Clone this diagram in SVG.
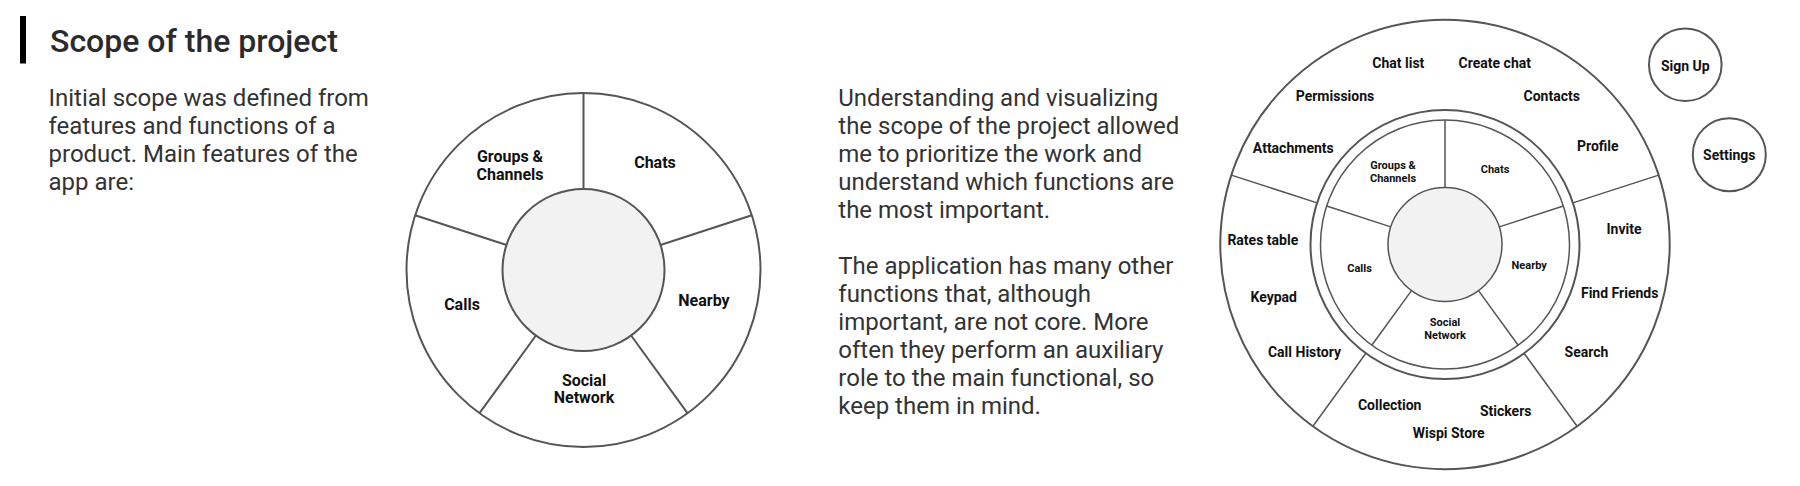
<svg xmlns="http://www.w3.org/2000/svg" width="1800" height="486" viewBox="0 0 1800 486">
<style>
  .title { font-family: Roboto, "Liberation Sans", sans-serif; font-size: 32px; font-weight: 500; fill: #2b2b2b; }
  .body { font-family: Roboto, "Liberation Sans", sans-serif; font-size: 24px; font-weight: 400; fill: #333333; }
  .lbl { font-family: Roboto, "Liberation Sans", sans-serif; font-weight: 700; fill: #111111; text-anchor: middle; }
  .big { font-size: 16px; }
  .mid { font-size: 14px; }
  .small { font-size: 11px; }
  .ring { fill: #ffffff; stroke: #555555; stroke-width: 2; }
  .thin { fill: #ffffff; stroke: #555555; stroke-width: 1.5; }
  .core { fill: #f2f2f2; stroke: #555555; }
  .div { stroke: #555555; stroke-width: 2; fill: none; }
  .div2 { stroke: #555555; stroke-width: 1.5; fill: none; }
</style>
<rect x="0" y="0" width="1800" height="486" fill="#ffffff"/>

<g id="title">
  <rect x="20" y="16" width="6" height="47.5" fill="#000000"/>
  <text class="title" x="50" y="52.3">Scope of the project</text>
</g>

<g id="intro-text">
  <text class="body" x="48.5" y="106.3">Initial scope was defined from</text>
  <text class="body" x="48.5" y="134.3">features and functions of a</text>
  <text class="body" x="48.5" y="162.3">product. Main features of the</text>
  <text class="body" x="48.5" y="190.3">app are:</text>
</g>

<g id="explain-text">
  <text class="body" x="838.3" y="106">Understanding and visualizing</text>
  <text class="body" x="838.3" y="134">the scope of the project allowed</text>
  <text class="body" x="838.3" y="162">me to prioritize the work and</text>
  <text class="body" x="838.3" y="190">understand which functions are</text>
  <text class="body" x="838.3" y="218">the most important.</text>
  <text class="body" x="838.3" y="274">The application has many other</text>
  <text class="body" x="838.3" y="302">functions that, although</text>
  <text class="body" x="838.3" y="330">important, are not core. More</text>
  <text class="body" x="838.3" y="358">often they perform an auxiliary</text>
  <text class="body" x="838.3" y="386">role to the main functional, so</text>
  <text class="body" x="838.3" y="414">keep them in mind.</text>
</g>

<!-- Main features wheel -->
<g id="main-wheel">
  <circle class="ring" cx="583.5" cy="270" r="177"/>
  <circle class="core" cx="583.5" cy="270" r="81" stroke-width="2"/>
</g>
<g id="main-wheel-dividers">
  <line class="div" x1="583.5" y1="189" x2="583.5" y2="93"/>
  <line class="div" x1="660.5" y1="245" x2="751.8" y2="215.3"/>
  <line class="div" x1="631.1" y1="335.5" x2="687.5" y2="413.2"/>
  <line class="div" x1="535.9" y1="335.5" x2="479.5" y2="413.2"/>
  <line class="div" x1="506.5" y1="245" x2="415.2" y2="215.3"/>
</g>
<g id="main-groups"><text class="lbl big" x="510" y="162">Groups &amp;</text><text class="lbl big" x="510" y="180">Channels</text></g>
<g id="main-chats"><text class="lbl big" x="655" y="167.7">Chats</text></g>
<g id="main-nearby"><text class="lbl big" x="704" y="306">Nearby</text></g>
<g id="main-calls"><text class="lbl big" x="462" y="310">Calls</text></g>
<g id="main-social"><text class="lbl big" x="584" y="386">Social</text><text class="lbl big" x="584" y="403.3">Network</text></g>

<!-- Full scope wheel -->
<g id="scope-wheel">
  <circle class="ring" cx="1445" cy="244.5" r="224.7"/>
  <circle class="ring" cx="1445" cy="244.5" r="134.5" stroke-width="2.5"/>
  <circle class="thin" cx="1445" cy="244.5" r="124.5"/>
  <circle class="core" cx="1445" cy="244.5" r="57" stroke-width="1.5"/>
</g>
<g id="scope-wheel-dividers">
  <line class="div2" x1="1445" y1="187.5" x2="1445" y2="120"/>
  <line class="div2" x1="1499.2" y1="226.9" x2="1563.4" y2="206"/>
  <line class="div2" x1="1478.5" y1="290.6" x2="1518.2" y2="345.2"/>
  <line class="div2" x1="1411.5" y1="290.6" x2="1371.8" y2="345.2"/>
  <line class="div2" x1="1390.8" y1="226.9" x2="1326.6" y2="206"/>
  <line class="div2" x1="1572.9" y1="202.9" x2="1658.7" y2="175.1"/>
  <line class="div2" x1="1524.1" y1="353.3" x2="1577.1" y2="426.3"/>
  <line class="div2" x1="1365.9" y1="353.3" x2="1312.9" y2="426.3"/>
  <line class="div2" x1="1317.1" y1="202.9" x2="1231.3" y2="175.1"/>
</g>
<g id="core-groups"><text class="lbl small" x="1393" y="168.7">Groups &amp;</text><text class="lbl small" x="1393" y="182.3">Channels</text></g>
<g id="core-chats"><text class="lbl small" x="1495" y="172.7">Chats</text></g>
<g id="core-nearby"><text class="lbl small" x="1529.2" y="269.3">Nearby</text></g>
<g id="core-calls"><text class="lbl small" x="1359.5" y="272.3">Calls</text></g>
<g id="core-social"><text class="lbl small" x="1445" y="325.7">Social</text><text class="lbl small" x="1445" y="339.3">Network</text></g>

<g id="f-chat-list"><text class="lbl mid" x="1398.3" y="68.3">Chat list</text></g>
<g id="f-create-chat"><text class="lbl mid" x="1494.8" y="68.3">Create chat</text></g>
<g id="f-permissions"><text class="lbl mid" x="1335" y="100.7">Permissions</text></g>
<g id="f-contacts"><text class="lbl mid" x="1551.7" y="101">Contacts</text></g>
<g id="f-attachments"><text class="lbl mid" x="1293.3" y="152.7">Attachments</text></g>
<g id="f-profile"><text class="lbl mid" x="1597.8" y="151">Profile</text></g>
<g id="f-rates-table"><text class="lbl mid" x="1262.8" y="245">Rates table</text></g>
<g id="f-invite"><text class="lbl mid" x="1624" y="234.3">Invite</text></g>
<g id="f-keypad"><text class="lbl mid" x="1273.7" y="302.3">Keypad</text></g>
<g id="f-find-friends"><text class="lbl mid" x="1619.7" y="297.7">Find Friends</text></g>
<g id="f-call-history"><text class="lbl mid" x="1304.5" y="357.3">Call History</text></g>
<g id="f-search"><text class="lbl mid" x="1586.5" y="357.3">Search</text></g>
<g id="f-collection"><text class="lbl mid" x="1389.7" y="409.7">Collection</text></g>
<g id="f-stickers"><text class="lbl mid" x="1505.7" y="416.3">Stickers</text></g>
<g id="f-wispi-store"><text class="lbl mid" x="1448.7" y="438.3">Wispi Store</text></g>

<g id="sign-up">
  <circle class="ring" cx="1685.3" cy="64.7" r="36.3"/>
  <text class="lbl mid" x="1685.3" y="70.7">Sign Up</text>
</g>
<g id="settings">
  <circle class="ring" cx="1729.3" cy="154.7" r="36.5"/>
  <text class="lbl mid" x="1729.3" y="160">Settings</text>
</g>
</svg>
